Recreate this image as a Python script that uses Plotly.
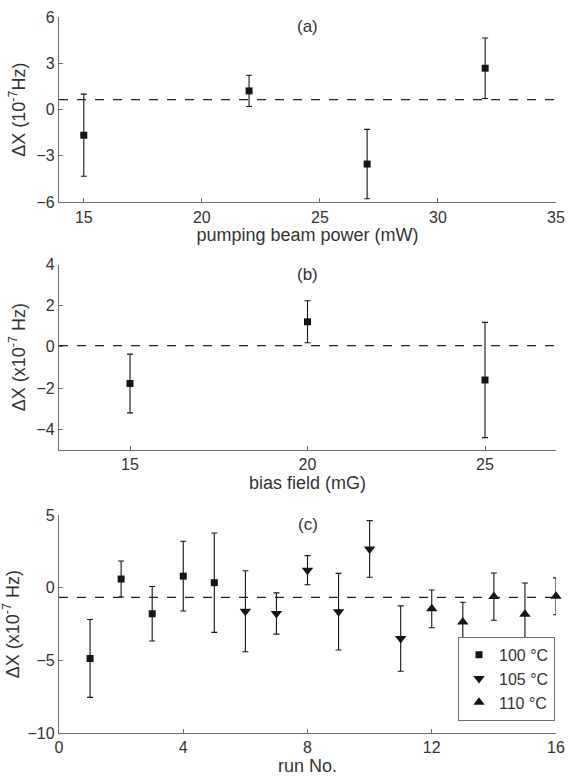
import plotly.graph_objects as go

# Panel (a)
a_x = [15, 22, 27, 32]
a_y = [-1.66, 1.21, -3.53, 2.68]
a_err = [2.66, 1.01, 2.25, 1.96]
a_mean = 0.64

# Panel (b)
b_x = [15, 20, 25]
b_y = [-1.78, 1.22, -1.61]
b_err = [1.43, 1.02, 2.80]
b_mean = 0.06

# Panel (c)
c100_x = [1, 2, 3, 4, 5]
c100_y = [-4.87, 0.60, -1.79, 0.80, 0.35]
c100_err = [2.68, 1.24, 1.88, 2.40, 3.42]
c105_x = [6, 7, 8, 9, 10, 11]
c105_y = [-1.62, -1.77, 1.21, -1.65, 2.67, -3.50]
c105_err = [2.79, 1.42, 1.00, 2.64, 1.95, 2.25]
c110_x = [12, 13, 14, 15, 16]
c110_y = [-1.45, -2.35, -0.61, -1.82, -0.59]
c110_err = [1.30, 1.35, 1.63, 2.15, 1.27]
c_mean = -0.66

legend_names = ["100 °C", "105 °C", "110 °C"]

FONT = "Liberation Sans, Arial, Helvetica, sans-serif"
TXT = "#333333"
AX = "#6e6e6e"
MK = "#151515"

fig = go.Figure()

def add(x, y, err, sym, size, xa, ya, name=None, show=False):
    fig.add_trace(go.Scatter(
        x=x, y=y, mode="markers", xaxis=xa, yaxis=ya, name=name, showlegend=show,
        marker=dict(symbol=sym, size=size, color=MK, line=dict(width=0)),
        error_y=dict(type="data", array=err, visible=True, color=MK, thickness=1.1, width=3),
        cliponaxis=False,
    ))

add(a_x, a_y, a_err, "square", 7, "x", "y")
add(b_x, b_y, b_err, "square", 7, "x2", "y2")
add(c100_x, c100_y, c100_err, "square", 7, "x3", "y3", legend_names[0], True)
add(c105_x, c105_y, c105_err, "triangle-down", 10, "x3", "y3", legend_names[1], True)
add(c110_x, c110_y, c110_err, "triangle-up", 10, "x3", "y3", legend_names[2], True)

for ref, m in (("y", a_mean), ("y2", b_mean), ("y3", c_mean)):
    xr = "x" if ref == "y" else "x" + ref[1:]
    fig.add_shape(type="line", xref=xr + " domain", yref=ref, x0=0, x1=1, y0=m, y1=m,
                  line=dict(color="#222222", width=1.2, dash="dash"))

for xr, lab in (("x", "(a)"), ("x2", "(b)"), ("x3", "(c)")):
    yr = "y" if xr == "x" else "y" + xr[1:]
    fig.add_annotation(xref=xr + " domain", yref=yr + " domain", x=0.5, y=1.0,
                       yanchor="top", yshift=2, text=lab, showarrow=False,
                       font=dict(family=FONT, size=17, color=TXT))

axis_common = dict(showline=True, linecolor=AX, linewidth=1.3, ticks="inside",
                   ticklen=4, tickcolor=AX, tickwidth=1, showgrid=False, zeroline=False,
                   tickfont=dict(family=FONT, size=16, color=TXT),
                   title_font=dict(family=FONT, size=18, color=TXT))

dom_a = [0.7414, 1.0]
dom_b = [0.3956, 0.6542]
dom_c = [0.0, 0.3043]

fig.update_layout(
    width=574, height=779,
    margin=dict(l=52, r=9, t=12, b=44),
    paper_bgcolor="white", plot_bgcolor="white",
    font=dict(family=FONT, color=TXT),
    xaxis=dict(axis_common, domain=[0, 1], anchor="y", range=[13.95, 35],
               tickvals=[15, 20, 25, 30, 35], title=dict(text="pumping beam power (mW)", standoff=3)),
    yaxis=dict(axis_common, domain=dom_a, anchor="x", range=[-6, 6],
               tickvals=[-6, -3, 0, 3, 6], title=dict(text="ΔX (10<sup>-7</sup>Hz)", standoff=6)),
    xaxis2=dict(axis_common, domain=[0, 1], anchor="y2", range=[13, 27],
                tickvals=[15, 20, 25], title=dict(text="bias field (mG)", standoff=3)),
    yaxis2=dict(axis_common, domain=dom_b, anchor="x2", range=[-5, 4],
                tickvals=[-4, -2, 0, 2, 4], title=dict(text="ΔX (x10<sup>-7</sup> Hz)", standoff=6)),
    xaxis3=dict(axis_common, domain=[0, 1], anchor="y3", range=[0, 16],
                tickvals=[0, 4, 8, 12, 16], title=dict(text="run No.", standoff=1)),
    yaxis3=dict(axis_common, domain=dom_c, anchor="x3", range=[-10, 5],
                tickvals=[-10, -5, 0, 5], title=dict(text="ΔX (x10<sup>-7</sup> Hz)", standoff=6)),
    legend=dict(x=0.998, y=0.017, xanchor="right", yanchor="bottom",
                bordercolor=AX, borderwidth=1, bgcolor="white",
                font=dict(family=FONT, size=16, color=TXT),
                itemwidth=30, tracegroupgap=0),
    showlegend=True,
)

post = ("document.documentElement.style.margin='0';document.body.style.margin='0';"
        "document.documentElement.style.overflow='hidden';document.body.style.overflow='hidden';"
        "var d=document.getElementById('{plot_id}');d.style.position='fixed';"
        "d.style.left='0px';d.style.top='0px';")

fig.write_html("out.html", config={"displayModeBar": False}, post_script=post)
